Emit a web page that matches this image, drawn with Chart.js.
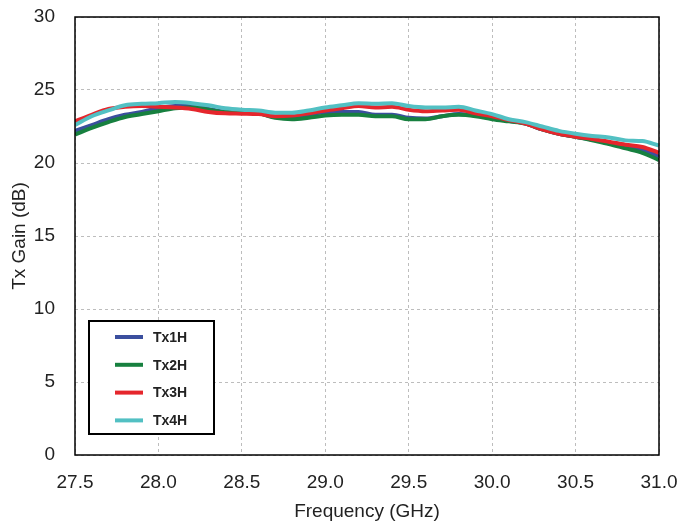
<!DOCTYPE html>
<html>
<head>
<meta charset="utf-8">
<script src="https://cdn.jsdelivr.net/npm/chart.js@4/dist/chart.umd.min.js"></script>
<style>
  html, body { margin: 0; padding: 0; background: #fff; }
  #wrap { width: 680px; height: 527px; }
</style>
</head>
<body>
<div id="wrap"><canvas id="gain" width="680" height="527"></canvas></div>
<script>
// frequency points (GHz)
const freq = [27.5, 27.6, 27.7, 27.8, 27.9, 28.0, 28.1, 28.2, 28.3, 28.4, 28.5, 28.6,
              28.7, 28.8, 28.9, 29.0, 29.1, 29.2, 29.3, 29.4, 29.5, 29.6, 29.7, 29.8,
              29.9, 30.0, 30.1, 30.2, 30.3, 30.4, 30.5, 30.6, 30.7, 30.8, 30.9, 31.0];

// Tx gain (dB) per channel
const tx1 = [22.2, 22.6, 23.0, 23.3, 23.5, 23.75, 23.9, 23.9, 23.7, 23.5, 23.45, 23.4,
             23.15, 23.1, 23.3, 23.5, 23.5, 23.5, 23.3, 23.3, 23.1, 23.05, 23.2, 23.35,
             23.25, 23.1, 22.9, 22.7, 22.3, 22.0, 21.8, 21.6, 21.35, 21.1, 20.9, 20.45];
const tx2 = [21.95, 22.4, 22.8, 23.15, 23.35, 23.55, 23.75, 23.8, 23.65, 23.5, 23.5, 23.4,
             23.1, 23.0, 23.1, 23.25, 23.3, 23.3, 23.2, 23.2, 23.0, 23.0, 23.2, 23.3,
             23.2, 23.0, 22.85, 22.7, 22.3, 22.0, 21.8, 21.55, 21.3, 21.0, 20.7, 20.2];
const tx3 = [22.85, 23.3, 23.7, 23.85, 23.9, 23.85, 23.8, 23.7, 23.5, 23.4, 23.38, 23.35,
             23.2, 23.25, 23.4, 23.6, 23.75, 23.9, 23.8, 23.85, 23.65, 23.55, 23.6, 23.65,
             23.4, 23.2, 22.95, 22.7, 22.3, 22.0, 21.8, 21.65, 21.45, 21.25, 21.1, 20.7];
const tx4 = [22.6, 23.2, 23.6, 23.95, 24.05, 24.1, 24.18, 24.1, 23.95, 23.75, 23.65, 23.6,
             23.45, 23.45, 23.6, 23.8, 23.95, 24.1, 24.05, 24.1, 23.9, 23.8, 23.8, 23.85,
             23.6, 23.35, 23.0, 22.8, 22.5, 22.2, 22.0, 21.85, 21.75, 21.55, 21.5, 21.2];

const labels = ['Tx1H', 'Tx2H', 'Tx3H', 'Tx4H'];
const colors = ['#3b4f9e', '#17803f', '#e5262c', '#52c0c3'];
const series = [tx1, tx2, tx3, tx4];

const xTicks = [27.5, 28.0, 28.5, 29.0, 29.5, 30.0, 30.5, 31.0];

const txtColor = '#222';
const fontFam = '"Liberation Sans", Arial, sans-serif';

function pts(arr) {
  return arr.map((v, i) => ({ x: freq[i], y: v }));
}

// plot frame + inside legend
const frameLegend = {
  id: 'frameLegend',
  afterDraw(chart) {
    const ctx = chart.ctx;
    const a = chart.chartArea;
    ctx.save();
    ctx.strokeStyle = '#000';
    ctx.lineWidth = 1.5;
    ctx.strokeRect(a.left, a.top, a.right - a.left, a.bottom - a.top);

    // legend box
    const bx = 89, by = 321, bw = 125, bh = 113;
    ctx.fillStyle = '#fff';
    ctx.fillRect(bx, by, bw, bh);
    ctx.lineWidth = 2;
    ctx.strokeRect(bx, by, bw, bh);
    ctx.font = 'bold 14px ' + fontFam;
    ctx.textBaseline = 'middle';
    chart.data.datasets.forEach((ds, i) => {
      const y = 337 + i * 27.8;
      ctx.strokeStyle = ds.borderColor;
      ctx.lineWidth = 4;
      ctx.beginPath();
      ctx.moveTo(115, y);
      ctx.lineTo(143, y);
      ctx.stroke();
      ctx.fillStyle = txtColor;
      ctx.fillText(ds.label, 153, y + 1);
    });
    ctx.restore();
  }
};

new Chart(document.getElementById('gain'), {
  type: 'line',
  data: {
    datasets: series.map((s, i) => ({
      label: labels[i],
      data: pts(s),
      borderColor: colors[i],
      backgroundColor: colors[i],
      borderWidth: 4,
      pointRadius: 0,
      tension: 0.4,
      cubicInterpolationMode: 'monotone',
      order: 4 - i
    }))
  },
  options: {
    responsive: false,
    animation: false,
    layout: { padding: { top: 17, right: 21, bottom: 0, left: 0 } },
    plugins: {
      legend: { display: false },
      tooltip: { enabled: false }
    },
    scales: {
      x: {
        type: 'linear',
        min: 27.5,
        max: 31.0,
        afterFit: s => { s.height = 72; s.paddingLeft = 0; s.paddingRight = 0; },
        afterBuildTicks: s => { s.ticks = xTicks.map(v => ({ value: v })); },
        grid: { color: '#bdbdbd', lineWidth: 1, drawTicks: false },
        border: { display: false, dash: [3, 3] },
        ticks: {
          padding: 16,
          color: txtColor,
          font: { family: fontFam, size: 19 },
          callback: v => v.toFixed(1)
        },
        title: {
          display: true,
          text: 'Frequency (GHz)',
          color: txtColor,
          font: { family: fontFam, size: 19 },
          padding: { top: 0, bottom: 4 }
        }
      },
      y: {
        min: 0,
        max: 30,
        afterFit: s => { s.width = 75; s.paddingTop = 0; s.paddingBottom = 0; },
        grid: { color: '#bdbdbd', lineWidth: 1, drawTicks: false },
        border: { display: false, dash: [3, 3] },
        ticks: {
          stepSize: 5,
          padding: 20,
          color: txtColor,
          font: { family: fontFam, size: 19 }
        },
        title: {
          display: true,
          text: 'Tx Gain (dB)',
          color: txtColor,
          font: { family: fontFam, size: 19 },
          padding: { top: 8, bottom: 0 }
        }
      }
    }
  },
  plugins: [frameLegend]
});
</script>
</body>
</html>
